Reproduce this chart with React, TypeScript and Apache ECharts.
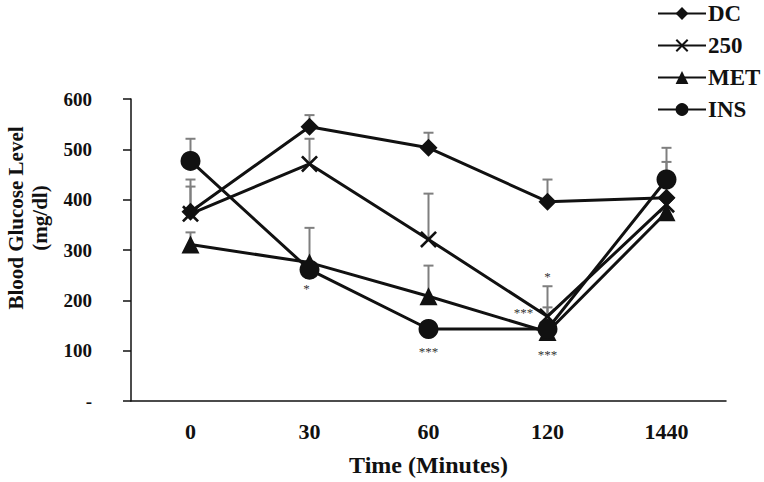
import React, { useEffect, useRef } from "react";
import * as echarts from "echarts";

const categories = ["0", "30", "60", "120", "1440"];
const seriesNames = ["DC", "250", "MET", "INS"];
const dcValues = [376, 545, 503, 396, 404];
const dcErrors = [64, 23, 30, 44, 71];
const v250Values = [372, 471, 321, 168, 390];
const v250Errors = [54, 50, 91, 60, 0];
const metValues = [311, 275, 208, 137, 375];
const metErrors = [24, 69, 61, 0, 0];
const insValues = [477, 261, 143, 143, 440];
const insErrors = [44, 0, 0, 43, 63];
const yTicks = [0, 100, 200, 300, 400, 500, 600];

const starCats = [1, 2, 3, 3, 3];
const starValues = [224, 99, 176, 248, 93];
const starTexts = ["*", "***", "***", "*", "***"];
const starShift = [-3, 0, -24, 0, 0];

const FONT = "'Liberation Serif', 'Times New Roman', serif";
const X_PATH =
  "path://M0,2.2L2.2,0L10,7.8L17.8,0L20,2.2L12.2,10L20,17.8L17.8,20L10,12.2L2.2,20L0,17.8L7.8,10Z";

export default function App() {
  const ref = useRef<HTMLDivElement>(null);
  useEffect(() => {
    document.body.style.margin = "0";
    if (!ref.current) return;
    const chart = echarts.init(ref.current, null, { renderer: "svg" });
    const allValues = [dcValues, v250Values, metValues, insValues];
    const allErrors = [dcErrors, v250Errors, metErrors, insErrors];
    const symbols = ["diamond", X_PATH, "triangle", "circle"];
    const sizes = [18, 17, 18, 20];

    const errData: number[][] = [];
    allValues.forEach((vals, s) =>
      vals.forEach((v, i) => {
        if (allErrors[s][i] > 0) errData.push([i, v, allErrors[s][i]]);
      })
    );

    const lineSeries = seriesNames.map((name, s) => ({
      name,
      type: "line",
      data: allValues[s],
      symbol: symbols[s],
      symbolSize: sizes[s],
      showAllSymbol: true,
      lineStyle: { color: "#111", width: 3 },
      itemStyle: { color: "#111", borderColor: "#111", borderWidth: 0 },
      z: 3,
    }));

    chart.setOption({
      animation: false,
      backgroundColor: "#fff",
      grid: { left: 131, right: 38, top: 99, bottom: 80 },
      legend: {
        orient: "vertical",
        left: 657,
        top: 2,
        padding: 0,
        itemWidth: 48,
        itemHeight: 16,
        itemGap: 9,
        data: seriesNames,
        textStyle: {
          fontFamily: FONT,
          fontWeight: "bold",
          fontSize: 23,
          lineHeight: 20,
          color: "#111",
          padding: [0, 0, 0, -3],
        },
      },
      xAxis: {
        type: "category",
        data: categories,
        boundaryGap: true,
        axisLine: { lineStyle: { color: "#111", width: 1.5 } },
        axisTick: { show: false },
        axisLabel: { fontFamily: FONT, fontWeight: "bold", fontSize: 22, color: "#111", margin: 19 },
        name: "Time (Minutes)",
        nameLocation: "middle",
        nameGap: 52,
        nameTextStyle: { fontFamily: FONT, fontWeight: "bold", fontSize: 24, color: "#111" },
      },
      yAxis: {
        type: "value",
        min: yTicks[0],
        max: yTicks[yTicks.length - 1],
        interval: 100,
        splitLine: { show: false },
        axisLine: { show: true, lineStyle: { color: "#111", width: 1.5 } },
        axisTick: { show: true, length: 8, lineStyle: { color: "#111", width: 1.5 } },
        axisLabel: {
          fontFamily: FONT,
          fontWeight: "bold",
          fontSize: 19,
          color: "#111",
          margin: 39,
          formatter: (v: number) => (v === 0 ? "-" : String(v)),
        },
      },
      graphic: [
        {
          type: "text",
          x: 28,
          y: 218,
          rotation: Math.PI / 2,
          style: {
            text: "Blood Glucose Level\n(mg/dl)",
            font: `bold 21px ${FONT}`,
            fill: "#111",
            align: "center",
            verticalAlign: "middle",
            lineHeight: 24,
          },
        },
      ],
      series: [
        {
          type: "custom",
          name: "errors",
          data: errData,
          z: 1,
          silent: true,
          renderItem: (params: any, api: any) => {
            const c = api.value(0);
            const v = api.value(1);
            const e = api.value(2);
            const p0 = api.coord([c, v]);
            const p1 = api.coord([c, v + e]);
            const st = { stroke: "#7f7f7f", lineWidth: 2 };
            return {
              type: "group",
              children: [
                { type: "line", shape: { x1: p0[0], y1: p0[1], x2: p1[0], y2: p1[1] }, style: st },
                { type: "line", shape: { x1: p1[0] - 5, y1: p1[1], x2: p1[0] + 5, y2: p1[1] }, style: st },
              ],
            };
          },
        },
        ...lineSeries,
        {
          type: "custom",
          name: "stars",
          data: starCats.map((c, i) => [c, starValues[i]]),
          z: 4,
          silent: true,
          renderItem: (params: any, api: any) => {
            const i = params.dataIndex;
            const p = api.coord([api.value(0), api.value(1)]);
            return {
              type: "text",
              x: p[0] + starShift[i],
              y: p[1],
              style: {
                text: starTexts[i],
                font: `13px ${FONT}`,
                fill: "#333",
                align: "center",
                verticalAlign: "middle",
              },
            };
          },
        },
      ],
    });
    return () => chart.dispose();
  }, []);
  return <div ref={ref} style={{ width: 764, height: 482 }} />;
}
